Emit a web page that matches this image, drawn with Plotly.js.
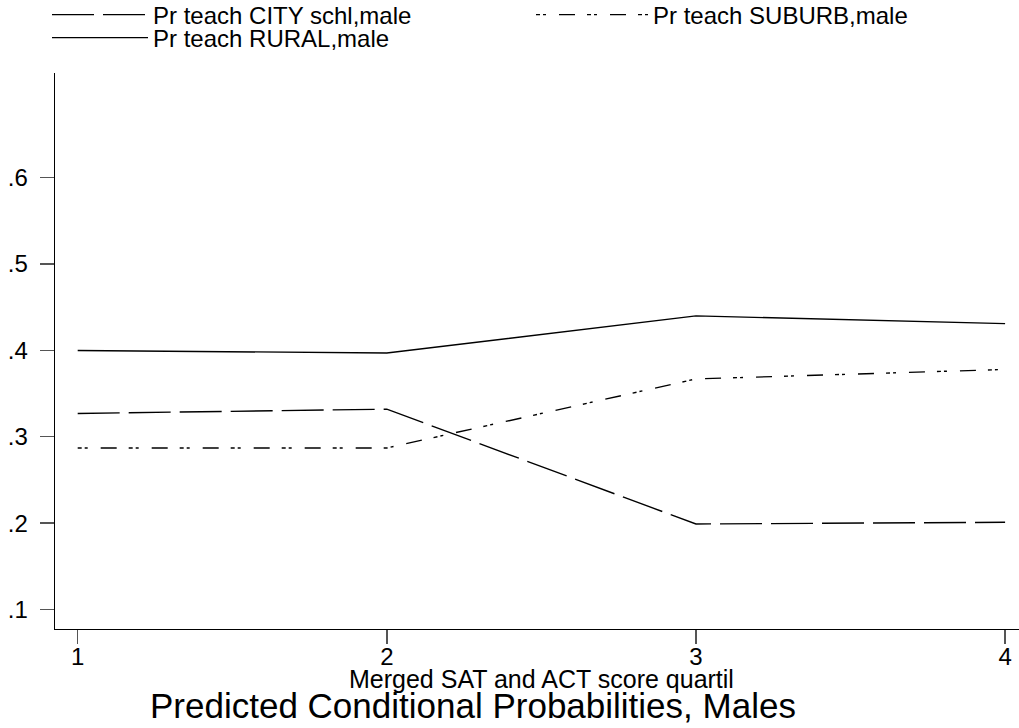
<!DOCTYPE html>
<html>
<head>
<meta charset="utf-8">
<script src="https://cdn.plot.ly/plotly-3.0.1.min.js"></script>
<style>
  html, body { margin: 0; padding: 0; background: #fff; }
  #chart { width: 1019px; height: 728px; }
</style>
</head>
<body>
<div id="chart"></div>
<script>
// Score quartiles on the x axis
const quartiles = [1, 2, 3, 4];

// Predicted probability of teaching, by school locale (males)
const cityProb   = [0.327, 0.332, 0.199, 0.201];
const suburbProb = [0.287, 0.287, 0.367, 0.378];
const ruralProb  = [0.400, 0.397, 0.440, 0.431];

const seriesNames = [
  "Pr teach CITY schl,male",
  "Pr teach SUBURB,male",
  "Pr teach RURAL,male"
];

const xAxisTitle = "Merged SAT and ACT score quartil";
const chartTitle = "Predicted Conditional Probabilities, Males";

const yTickVals = [0.1, 0.2, 0.3, 0.4, 0.5, 0.6];
const yTickText = [".1", ".2", ".3", ".4", ".5", ".6"];

const FONT = "Liberation Sans, Arial, Helvetica, sans-serif";
const W = 1019, H = 728;
const M = { l: 55, r: 0, t: 73, b: 99 };
const plotW = W - M.l - M.r, plotH = H - M.t - M.b;

const traces = [
  {
    x: quartiles, y: cityProb, name: seriesNames[0],
    type: "scatter", mode: "lines",
    line: { color: "#000", width: 1.4, dash: "42px,9px" },
    legend: "legend"
  },
  {
    x: quartiles, y: suburbProb, name: seriesNames[1],
    type: "scatter", mode: "lines",
    line: { color: "#000", width: 1.4, dash: "4px,3px,3px,13px,16px,12px" },
    legend: "legend2"
  },
  {
    x: quartiles, y: ruralProb, name: seriesNames[2],
    type: "scatter", mode: "lines",
    line: { color: "#000", width: 1.4 },
    legend: "legend3"
  }
];

// One legend box per key so each row can be placed on its own
function legendAt(xPx, yPx, symbolWidth) {
  return {
    orientation: "v",
    xref: "container", yref: "container",
    x: xPx / W, y: 1 - yPx / H,
    xanchor: "left", yanchor: "middle",
    bgcolor: "rgba(0,0,0,0)",
    borderwidth: 0,
    itemwidth: symbolWidth,
    font: { family: FONT, size: 24, color: "#000" }
  };
}

const layout = {
  width: W,
  height: H,
  paper_bgcolor: "#fff",
  plot_bgcolor: "#fff",
  margin: { l: M.l, r: M.r, t: M.t, b: M.b, pad: 0, autoexpand: false },
  showlegend: true,
  legend: legendAt(47, 15, 96),
  legend2: legendAt(531, 15, 112),
  legend3: legendAt(47, 38, 96),
  title: {
    text: chartTitle,
    font: { family: FONT, size: 35, color: "#000" },
    xref: "container", yref: "container",
    x: 150 / W, xanchor: "left",
    y: 1 - 706 / H, yanchor: "middle"
  },
  annotations: [
    {
      text: xAxisTitle,
      xref: "paper", yref: "paper",
      x: (541 - M.l) / plotW, y: -(679 - (H - M.b)) / plotH,
      xanchor: "center", yanchor: "middle",
      showarrow: false,
      font: { family: FONT, size: 25, color: "#000" }
    }
  ],
  xaxis: {
    range: [0.9266, 4.045],
    tickvals: quartiles,
    ticktext: quartiles.map(String),
    ticks: "outside", ticklen: 14, tickwidth: 1.4, tickcolor: "#555",
    showline: true, linecolor: "#000", linewidth: 1.4,
    showgrid: false, zeroline: false,
    ticklabelstandoff: -8,
    tickfont: { family: FONT, size: 24, color: "#000" }
  },
  yaxis: {
    range: [0.0774, 0.7213],
    tickvals: yTickVals,
    ticktext: yTickText,
    ticks: "outside", ticklen: 14, tickwidth: 1.4, tickcolor: "#555",
    showline: true, linecolor: "#000", linewidth: 1.4,
    showgrid: false, zeroline: false,
    ticklabelstandoff: 7,
    tickfont: { family: FONT, size: 24, color: "#000" }
  }
};

Plotly.newPlot("chart", traces, layout, { displayModeBar: false, staticPlot: true });
</script>
</body>
</html>
